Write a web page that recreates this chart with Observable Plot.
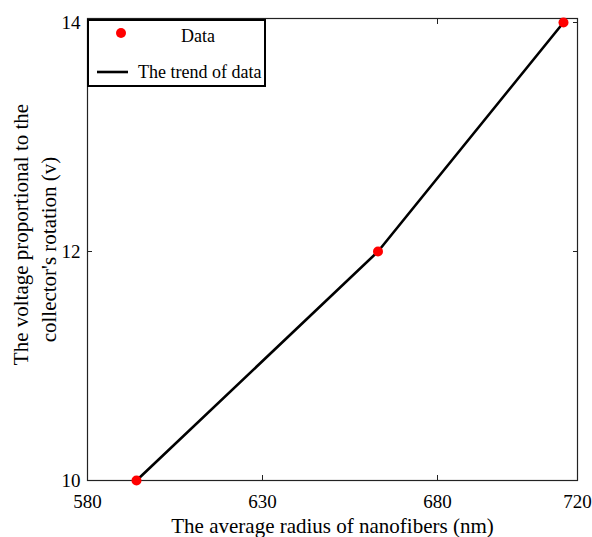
<!DOCTYPE html>
<html><head><meta charset="utf-8">
<script src="https://cdn.jsdelivr.net/npm/d3@7"></script>
<script src="https://cdn.jsdelivr.net/npm/@observablehq/plot@0.6"></script>
<style>body{margin:0;background:#fff} #chart{width:592px;height:537px}</style>
</head><body><div id="chart"></div>
<script>
const radius = [594, 663, 716];
const voltage = [10, 12, 14];
const xTicks = [580, 630, 680, 720];
const yTicks = [10, 12, 14];
const xDomain = [580, 720];
const yDomain = [10, 14.035];
const xTitle = "The average radius of nanofibers (nm)";
const yTitle = ["The voltage proportional to the", "collector's rotation (v)"];
const legendLabels = ["Data", "The trend of data"];

const data = radius.map((r, i) => ({radius: r, voltage: voltage[i]}));
const font = "'Liberation Serif', 'Times New Roman', serif";
const axisColor = "#222";
const blank = () => "";
const intFmt = d3.format("d");

const plot = Plot.plot({
  width: 592, height: 537,
  marginLeft: 87, marginRight: 15, marginTop: 18, marginBottom: 57,
  style: {fontFamily: font, fontSize: "19px", background: "white", color: "#000", overflow: "visible"},
  x: {domain: xDomain},
  y: {domain: yDomain},
  marks: [
    Plot.frame({stroke: axisColor, strokeWidth: 1.2}),
    Plot.axisX(xTicks, {anchor: "bottom", tickSize: -5, tickFormat: blank, label: null, stroke: axisColor}),
    Plot.axisX(xTicks, {anchor: "top", tickSize: -5, tickFormat: blank, label: null, stroke: axisColor}),
    Plot.axisY(yTicks, {anchor: "left", tickSize: -5, tickFormat: blank, label: null, stroke: axisColor}),
    Plot.axisY(yTicks, {anchor: "right", tickSize: -5, tickFormat: blank, label: null, stroke: axisColor}),
    Plot.axisX(xTicks, {anchor: "bottom", tickSize: 0, tickPadding: 13.5, label: null, fontSize: 19, tickFormat: intFmt}),
    Plot.axisY(yTicks, {anchor: "left", tickSize: 0, tickPadding: 7, label: null, fontSize: 19, tickFormat: intFmt}),
    Plot.line(data, {x: "radius", y: "voltage", stroke: "black", strokeWidth: 2.6}),
    Plot.dot(data, {x: "radius", y: "voltage", r: 5, fill: "#ff0000", stroke: "none"}),
    Plot.text([xTitle], {frameAnchor: "bottom", textAnchor: "middle", lineAnchor: "middle", dy: 45.3, fontSize: 21, fill: "black"}),
    Plot.text([yTitle[0]], {frameAnchor: "left", textAnchor: "middle", rotate: -90, lineAnchor: "middle", dx: -66.7, dy: -15, fontSize: 21, fill: "black"}),
    Plot.text([yTitle[1]], {frameAnchor: "left", textAnchor: "middle", rotate: -90, lineAnchor: "middle", dx: -38.7, dy: 0, fontSize: 21, fill: "black"})
  ]
});
document.getElementById("chart").appendChild(plot);

// legend box inside the top-left corner of the frame
const svg = d3.select(plot);
const lg = svg.append("g").attr("font-family", font).attr("font-size", 18);
lg.append("rect").attr("x", 88).attr("y", 20).attr("width", 177).attr("height", 66)
  .attr("fill", "white").attr("stroke", "black").attr("stroke-width", 2);
lg.append("circle").attr("cx", 121).attr("cy", 33).attr("r", 5).attr("fill", "#ff0000");
lg.append("text").attr("x", 198).attr("y", 42).attr("text-anchor", "middle").text(legendLabels[0]);
lg.append("line").attr("x1", 97).attr("x2", 128).attr("y1", 72).attr("y2", 72)
  .attr("stroke", "black").attr("stroke-width", 2.6);
lg.append("text").attr("x", 138).attr("y", 78).attr("text-anchor", "start").text(legendLabels[1]);
</script>
</body></html>
